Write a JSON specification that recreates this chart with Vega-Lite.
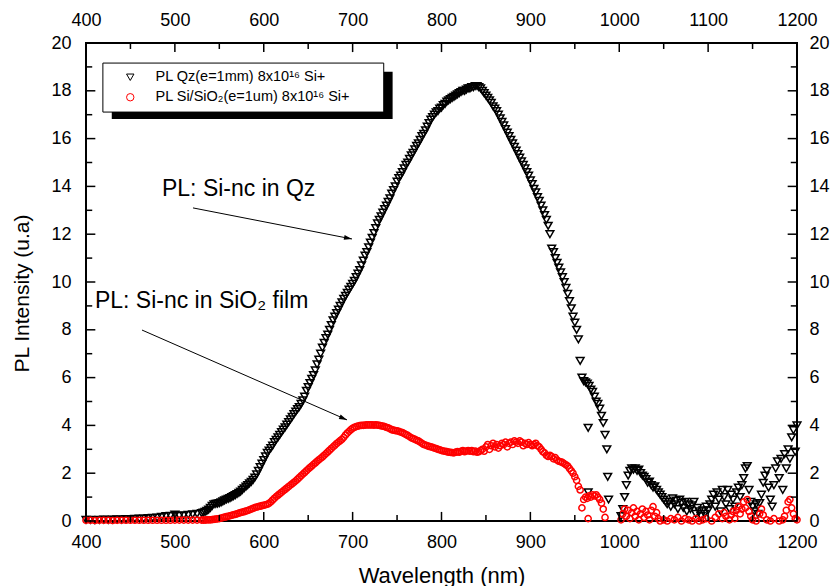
{
"$schema":"https://vega.github.io/schema/vega-lite/v6.json",
"width":711,"height":478,
"autosize":{"type":"none"},
"padding":{"left":86,"top":43,"right":38,"bottom":65},
"background":"white",
"config":{
 "font":"Liberation Sans",
 "view":{"stroke":"black","strokeWidth":2},
 "axis":{"domain":false,"ticks":false,"grid":false,"labelFont":"Liberation Sans","labelFontSize":18,"labelColor":"black","labelFlush":false,"labelOverlap":false,"labelBound":false,"titleFont":"Liberation Sans","titleFontWeight":"normal","titleColor":"black","titleFontSize":21}
},
"datasets":{
 "xmaj":[{"t":400},{"t":500},{"t":600},{"t":700},{"t":800},{"t":900},{"t":1000},{"t":1100},{"t":1200}],
 "xmin":[{"t":450},{"t":550},{"t":650},{"t":750},{"t":850},{"t":950},{"t":1050},{"t":1150}],
 "ymaj":[{"t":0},{"t":2},{"t":4},{"t":6},{"t":8},{"t":10},{"t":12},{"t":14},{"t":16},{"t":18},{"t":20}],
 "ymin":[{"t":1},{"t":3},{"t":5},{"t":7},{"t":9},{"t":11},{"t":13},{"t":15},{"t":17},{"t":19}]
},
"data":{"values":[
{"w":400,"q":0.05,"s":0.03},{"w":405,"q":0.05,"s":0.03},{"w":410,"q":0.04,"s":0.02},{"w":415,"q":0.05,"s":0.03},{"w":420,"q":0.06,"s":0.03},{"w":425,"q":0.05,"s":0.03},{"w":430,"q":0.06,"s":0.02},{"w":435,"q":0.07,"s":0.03},{"w":440,"q":0.06,"s":0.03},{"w":445,"q":0.08,"s":0.03},{"w":450,"q":0.08,"s":0.03},{"w":455,"q":0.09,"s":0.03},{"w":460,"q":0.1,"s":0.03},{"w":465,"q":0.1,"s":0.03},{"w":470,"q":0.12,"s":0.03},{"w":475,"q":0.13,"s":0.03},{"w":480,"q":0.14,"s":0.03},{"w":485,"q":0.17,"s":0.03},{"w":490,"q":0.2,"s":0.03},{"w":495,"q":0.22,"s":0.03},{"w":500,"q":0.27,"s":0.04},{"w":505,"q":0.22,"s":0.04},{"w":510,"q":0.24,"s":0.04},{"w":515,"q":0.26,"s":0.04},{"w":520,"q":0.28,"s":0.04},{"w":525,"q":0.3,"s":0.04},{"w":530,"q":0.33,"s":0.04},
{"w":532,"q":0.35,"s":0.04},{"w":534,"q":0.38,"s":0.04},{"w":536,"q":0.42,"s":0.05},{"w":538,"q":0.48,"s":0.05},{"w":540,"q":0.55,"s":0.05},{"w":542,"q":0.63,"s":0.06},{"w":544,"q":0.7,"s":0.07},{"w":546,"q":0.72,"s":0.08},{"w":548,"q":0.73,"s":0.09},{"w":550,"q":0.75,"s":0.1},
{"w":552,"q":0.78,"s":0.12},{"w":554,"q":0.82,"s":0.14},{"w":556,"q":0.86,"s":0.16},{"w":558,"q":0.9,"s":0.18},{"w":560,"q":0.93,"s":0.2},{"w":562,"q":0.96,"s":0.22},{"w":564,"q":1.0,"s":0.24},{"w":566,"q":1.04,"s":0.26},{"w":568,"q":1.08,"s":0.28},{"w":570,"q":1.13,"s":0.3},
{"w":572,"q":1.18,"s":0.33},{"w":574,"q":1.23,"s":0.35},{"w":576,"q":1.3,"s":0.37},{"w":578,"q":1.37,"s":0.39},{"w":580,"q":1.44,"s":0.42},{"w":582,"q":1.5,"s":0.44},{"w":584,"q":1.57,"s":0.47},{"w":586,"q":1.64,"s":0.5},{"w":588,"q":1.72,"s":0.53},{"w":590,"q":1.82,"s":0.56},
{"w":592,"q":1.95,"s":0.58},{"w":594,"q":2.1,"s":0.6},{"w":596,"q":2.25,"s":0.62},{"w":598,"q":2.4,"s":0.64},{"w":600,"q":2.55,"s":0.66},{"w":602,"q":2.7,"s":0.68},{"w":604,"q":2.85,"s":0.7},{"w":606,"q":2.95,"s":0.74},{"w":608,"q":3.05,"s":0.8},{"w":610,"q":3.15,"s":0.88},
{"w":612,"q":3.3,"s":0.95},{"w":614,"q":3.4,"s":1.02},{"w":616,"q":3.5,"s":1.08},{"w":618,"q":3.6,"s":1.14},{"w":620,"q":3.72,"s":1.2},{"w":622,"q":3.82,"s":1.26},{"w":624,"q":3.92,"s":1.32},{"w":626,"q":4.03,"s":1.38},{"w":628,"q":4.14,"s":1.44},{"w":630,"q":4.25,"s":1.5},
{"w":632,"q":4.36,"s":1.56},{"w":634,"q":4.47,"s":1.62},{"w":636,"q":4.58,"s":1.68},{"w":638,"q":4.68,"s":1.75},{"w":640,"q":4.77,"s":1.82},{"w":642,"q":4.9,"s":1.89},{"w":644,"q":5.05,"s":1.96},{"w":646,"q":5.2,"s":2.03},{"w":648,"q":5.45,"s":2.1},{"w":650,"q":5.6,"s":2.17},
{"w":652,"q":5.77,"s":2.24},{"w":654,"q":5.95,"s":2.3},{"w":656,"q":6.1,"s":2.37},{"w":658,"q":6.3,"s":2.43},{"w":660,"q":6.55,"s":2.5},{"w":662,"q":6.75,"s":2.56},{"w":664,"q":7.0,"s":2.62},{"w":666,"q":7.25,"s":2.68},{"w":668,"q":7.45,"s":2.75},{"w":670,"q":7.65,"s":2.82},
{"w":672,"q":7.8,"s":2.89},{"w":674,"q":8.0,"s":2.96},{"w":676,"q":8.2,"s":3.03},{"w":678,"q":8.4,"s":3.1},{"w":680,"q":8.55,"s":3.17},{"w":682,"q":8.7,"s":3.24},{"w":684,"q":8.85,"s":3.3},{"w":686,"q":9.0,"s":3.36},{"w":688,"q":9.15,"s":3.42},{"w":690,"q":9.3,"s":3.5},
{"w":692,"q":9.42,"s":3.6},{"w":694,"q":9.55,"s":3.68},{"w":696,"q":9.68,"s":3.75},{"w":698,"q":9.8,"s":3.82},{"w":700,"q":9.92,"s":3.88},{"w":702,"q":10.05,"s":3.92},{"w":704,"q":10.2,"s":3.95},{"w":706,"q":10.35,"s":3.97},{"w":708,"q":10.5,"s":3.99},{"w":710,"q":10.7,"s":4.0},
{"w":712,"q":10.9,"s":4.0},{"w":714,"q":11.1,"s":4.01},{"w":716,"q":11.25,"s":4.02},{"w":718,"q":11.45,"s":4.02},{"w":720,"q":11.65,"s":4.02},{"w":722,"q":11.85,"s":4.02},{"w":724,"q":12.05,"s":4.01},{"w":726,"q":12.25,"s":4.02},{"w":728,"q":12.45,"s":4.01},{"w":730,"q":12.6,"s":4.0},
{"w":732,"q":12.75,"s":3.98},{"w":734,"q":12.9,"s":3.97},{"w":736,"q":13.05,"s":3.95},{"w":738,"q":13.2,"s":3.92},{"w":740,"q":13.35,"s":3.9},{"w":742,"q":13.5,"s":3.86},{"w":744,"q":13.7,"s":3.82},{"w":746,"q":13.85,"s":3.8},{"w":748,"q":14.0,"s":3.78},{"w":750,"q":14.2,"s":3.77},
{"w":752,"q":14.35,"s":3.75},{"w":754,"q":14.45,"s":3.72},{"w":756,"q":14.6,"s":3.7},{"w":758,"q":14.75,"s":3.66},{"w":760,"q":14.9,"s":3.62},{"w":762,"q":15.0,"s":3.58},{"w":764,"q":15.15,"s":3.53},{"w":766,"q":15.3,"s":3.48},{"w":768,"q":15.4,"s":3.45},{"w":770,"q":15.55,"s":3.42},
{"w":772,"q":15.7,"s":3.38},{"w":774,"q":15.8,"s":3.35},{"w":776,"q":15.95,"s":3.3},{"w":778,"q":16.1,"s":3.25},{"w":780,"q":16.2,"s":3.2},{"w":782,"q":16.35,"s":3.18},{"w":784,"q":16.5,"s":3.15},{"w":786,"q":16.65,"s":3.12},{"w":788,"q":16.8,"s":3.1},{"w":790,"q":16.9,"s":3.08},
{"w":792,"q":17.0,"s":3.05},{"w":794,"q":17.1,"s":3.03},{"w":796,"q":17.15,"s":3.0},{"w":798,"q":17.25,"s":2.98},{"w":800,"q":17.3,"s":2.95},{"w":802,"q":17.4,"s":2.93},{"w":804,"q":17.45,"s":2.92},{"w":806,"q":17.55,"s":2.9},{"w":808,"q":17.6,"s":2.88},{"w":810,"q":17.65,"s":2.87},
{"w":812,"q":17.7,"s":2.86},{"w":814,"q":17.75,"s":2.85},{"w":816,"q":17.8,"s":2.88},{"w":818,"q":17.85,"s":2.9},{"w":820,"q":17.9,"s":2.88},{"w":822,"q":17.95,"s":2.92},{"w":824,"q":18.0,"s":2.95},{"w":826,"q":18.0,"s":2.9},{"w":828,"q":18.05,"s":2.93},{"w":830,"q":18.1,"s":2.95},
{"w":832,"q":18.1,"s":2.92},{"w":834,"q":18.15,"s":2.95},{"w":836,"q":18.15,"s":2.9},{"w":838,"q":18.2,"s":2.93},{"w":840,"q":18.2,"s":2.88},{"w":842,"q":18.15,"s":2.9},{"w":844,"q":18.1,"s":2.95},{"w":846,"q":18.0,"s":3.0},{"w":848,"q":17.9,"s":2.92},{"w":850,"q":17.8,"s":3.1},
{"w":852,"q":17.7,"s":3.2},{"w":854,"q":17.6,"s":3.0},{"w":856,"q":17.5,"s":3.15},{"w":858,"q":17.35,"s":3.25},{"w":860,"q":17.25,"s":3.1},{"w":862,"q":17.15,"s":3.2},{"w":864,"q":17.0,"s":3.05},{"w":866,"q":16.85,"s":3.15},{"w":868,"q":16.7,"s":3.25},{"w":870,"q":16.55,"s":3.2},
{"w":872,"q":16.4,"s":3.3},{"w":874,"q":16.25,"s":3.1},{"w":876,"q":16.1,"s":3.25},{"w":878,"q":15.95,"s":3.3},{"w":880,"q":15.8,"s":3.2},{"w":882,"q":15.65,"s":3.35},{"w":884,"q":15.5,"s":3.3},{"w":886,"q":15.35,"s":3.25},{"w":888,"q":15.2,"s":3.35},{"w":890,"q":15.05,"s":3.3},
{"w":892,"q":14.9,"s":3.15},{"w":894,"q":14.75,"s":3.25},{"w":896,"q":14.6,"s":3.2},{"w":898,"q":14.45,"s":3.28},{"w":900,"q":14.25,"s":3.2},{"w":902,"q":14.1,"s":3.15},{"w":904,"q":13.9,"s":3.2},{"w":906,"q":13.75,"s":3.25},{"w":908,"q":13.55,"s":3.15},{"w":910,"q":13.4,"s":3.1},
{"w":912,"q":13.2,"s":3.0},{"w":914,"q":13.0,"s":2.9},{"w":916,"q":12.8,"s":2.85},{"w":918,"q":12.6,"s":2.75},{"w":920,"q":12.35,"s":2.7},{"w":922,"q":12.0,"s":2.75},{"w":924,"q":11.4,"s":2.7},{"w":926,"q":11.25,"s":2.6},{"w":928,"q":11.0,"s":2.65},{"w":930,"q":10.8,"s":2.55},
{"w":932,"q":10.6,"s":2.5},{"w":934,"q":10.4,"s":2.48},{"w":936,"q":10.2,"s":2.45},{"w":938,"q":10.0,"s":2.4},{"w":940,"q":9.75,"s":2.35},{"w":942,"q":9.5,"s":2.3},{"w":944,"q":9.2,"s":2.2},{"w":946,"q":8.9,"s":2.1},{"w":948,"q":8.55,"s":2.0},{"w":950,"q":8.3,"s":1.85},
{"w":952,"q":8.0,"s":1.7},{"w":954,"q":7.6,"s":1.45},{"w":956,"q":6.7,"s":1.3},{"w":958,"q":6.0,"s":0.55},{"w":960,"q":5.85,"s":0.9},{"w":962,"q":5.8,"s":1.0},{"w":964,"q":5.75,"s":0.95},{"w":966,"q":5.65,"s":1.05},{"w":968,"q":5.5,"s":1.0},{"w":970,"q":5.4,"s":1.1},
{"w":972,"q":5.2,"s":1.05},{"w":974,"q":5.0,"s":1.1},{"w":976,"q":4.9,"s":1.0},{"w":978,"q":4.7,"s":0.9},{"w":980,"q":4.4,"s":0.75},{"w":982,"q":4.1,"s":0.5},{"w":984,"q":3.6,"s":0.15},{"w":986,"q":3.0},{"w":987,"q":1.85},{"w":988,"q":0.9},
{"w":965,"q":3.9},{"w":965,"q":1.2},{"w":965,"s":0.1},
{"w":1002,"q":0.2,"s":0.05},{"w":1004,"q":0.5,"s":0.3},{"w":1006,"q":1.0,"s":0.5},{"w":1008,"q":1.5,"s":0.2},{"w":1010,"q":1.9,"s":0.45},{"w":1012,"q":2.1,"s":0.1},{"w":1014,"q":2.2,"s":0.35},{"w":1016,"q":2.15,"s":0.55},{"w":1018,"q":2.2,"s":0.2},{"w":1020,"q":2.1,"s":0.4},
{"w":1022,"q":2.15,"s":0.05},{"w":1024,"q":2.0,"s":0.3},{"w":1026,"q":1.9,"s":0.5},{"w":1028,"q":1.85,"s":0.15},{"w":1030,"q":1.75,"s":0.4},{"w":1032,"q":1.6,"s":0.25},{"w":1034,"q":1.65,"s":0.05},{"w":1036,"q":1.5,"s":0.45},{"w":1038,"q":1.4,"s":0.6},{"w":1040,"q":1.45,"s":0.2},
{"w":1042,"q":1.3,"s":0.35},{"w":1044,"q":1.2,"s":0.1},{"w":1046,"q":1.1,"s":0.0},{"w":1048,"q":1.0},{"w":1050,"q":0.9,"s":0.05},{"w":1052,"q":0.8},{"w":1054,"q":0.7,"s":0.0},{"w":1056,"q":0.8},{"w":1058,"q":0.6,"s":0.1},{"w":1060,"q":0.95},
{"w":1062,"q":0.7,"s":0.05},{"w":1064,"q":0.85},{"w":1066,"q":0.5,"s":0.15},{"w":1068,"q":0.9},{"w":1070,"q":0.75,"s":0.0},{"w":1072,"q":0.55},{"w":1074,"q":0.8,"s":0.1},{"w":1076,"q":0.4},{"w":1078,"q":0.7,"s":0.05},{"w":1080,"q":0.5},
{"w":1082,"q":0.65,"s":0.0},{"w":1084,"q":0.8},{"w":1086,"q":0.3,"s":0.1},{"w":1088,"q":0.55},{"w":1090,"q":0.4,"s":0.0},{"w":1092,"q":0.2},{"w":1094,"q":0.45,"s":0.05},{"w":1096,"q":0.3},{"w":1098,"q":0.6,"s":0.1},{"w":1100,"q":0.45},
{"w":1102,"q":0.7},{"w":1104,"q":0.9,"s":0.0},{"w":1106,"q":1.1},{"w":1108,"q":0.6,"s":0.15},{"w":1110,"q":1.2},{"w":1112,"q":0.9,"s":0.3},{"w":1114,"q":0.4},{"w":1116,"q":1.3,"s":0.1},{"w":1118,"q":1.0,"s":0.35},{"w":1120,"q":0.7,"s":0.2},
{"w":1122,"q":1.3},{"w":1124,"q":0.5,"s":0.05},{"w":1126,"q":1.1,"s":0.25},{"w":1128,"q":0.9,"s":0.4},{"w":1130,"q":0.6,"s":0.1},{"w":1132,"q":1.2,"s":0.45},{"w":1134,"q":1.4,"s":0.6},{"w":1136,"q":1.0,"s":0.3},{"w":1138,"q":1.5,"s":0.5},{"w":1140,"q":1.8,"s":0.8},
{"w":1142,"q":2.2,"s":0.55},{"w":1144,"q":2.3,"s":0.9},{"w":1146,"q":1.3,"s":0.4},{"w":1148,"q":0.8,"s":0.2},{"w":1150,"q":0.6,"s":0.05},{"w":1152,"q":0.4},{"w":1154,"q":0.7,"s":0.0},{"w":1156,"q":0.3},{"w":1158,"q":0.75,"s":0.3},{"w":1160,"q":1.1,"s":0.5},
{"w":1162,"q":1.6,"s":0.25},{"w":1164,"q":1.9},{"w":1166,"q":2.1,"s":0.05},{"w":1168,"q":1.4},{"w":1170,"q":0.9,"s":0.0},{"w":1172,"q":0.6},{"w":1174,"q":1.5,"s":0.1},{"w":1176,"q":2.2},{"w":1178,"q":2.5},{"w":1180,"q":1.8,"s":0.0},
{"w":1182,"q":2.6},{"w":1184,"q":1.3,"s":0.05},{"w":1186,"q":2.8,"s":0.2},{"w":1188,"q":2.2,"s":0.45},{"w":1190,"q":3.0,"s":0.8},{"w":1192,"q":2.6,"s":0.9},{"w":1194,"q":3.5,"s":0.55},{"w":1196,"q":3.8,"s":0.3},{"w":1198,"q":2.9,"s":0.1},{"w":1200,"q":4.0,"s":0.05}
]},
"resolve":{"axis":{"x":"independent","y":"independent"}},
"layer":[
{"mark":{"type":"point","filled":false,"strokeWidth":1.5,"size":60,"opacity":1},
 "encoding":{
  "x":{"field":"w","type":"quantitative","scale":{"domain":[400,1200],"nice":false,"zero":false},
   "axis":{"orient":"bottom","values":[400,500,600,700,800,900,1000,1100,1200],"format":"d","labelPadding":12,"title":"Wavelength (nm)","titleFontSize":22,"titleY":61,"titleBaseline":"alphabetic"}},
  "y":{"field":"q","type":"quantitative","scale":{"domain":[0,20],"nice":false},
   "axis":{"orient":"left","values":[0,2,4,6,8,10,12,14,16,18,20],"format":"d","labelPadding":15,"title":"PL Intensity (u.a)","titleX":-54,"titleY":250,"titleAngle":270,"titleBaseline":"bottom"}},
  "shape":{"datum":"PL Qz(e=1mm) 8x10¹⁶ Si+","type":"nominal","scale":{"domain":["PL Qz(e=1mm) 8x10¹⁶ Si+","PL Si/SiO₂(e=1um) 8x10¹⁶ Si+"],"range":["triangle-down","circle"]},
   "legend":{"orient":"none","legendX":37,"legendY":27,"title":null,"labelFont":"Liberation Sans","labelFontSize":14.5,"labelColor":"black","labelLimit":400,"symbolSize":55,"symbolStrokeWidth":1,"rowPadding":5,"labelOffset":18,"padding":0}},
  "color":{"datum":"PL Qz(e=1mm) 8x10¹⁶ Si+","type":"nominal","scale":{"domain":["PL Qz(e=1mm) 8x10¹⁶ Si+","PL Si/SiO₂(e=1um) 8x10¹⁶ Si+"],"range":["black","red"]},
   "legend":{"orient":"none","legendX":37,"legendY":27,"title":null,"labelFont":"Liberation Sans","labelFontSize":14.5,"labelColor":"black","labelLimit":400,"symbolSize":55,"symbolStrokeWidth":1,"rowPadding":5,"labelOffset":18,"padding":0}}
 }},
{"mark":{"type":"point","filled":false,"strokeWidth":1.5,"size":38,"opacity":1},
 "encoding":{
  "x":{"field":"w","type":"quantitative",
   "axis":{"orient":"top","values":[400,500,600,700,800,900,1000,1100,1200],"format":"d","labelPadding":14,"title":null}},
  "y":{"field":"s","type":"quantitative",
   "axis":{"orient":"right","values":[0,2,4,6,8,10,12,14,16,18,20],"format":"d","labelPadding":12,"title":null}},
  "shape":{"datum":"PL Si/SiO₂(e=1um) 8x10¹⁶ Si+","type":"nominal"},
  "color":{"datum":"PL Si/SiO₂(e=1um) 8x10¹⁶ Si+","type":"nominal"}
 }},
{"data":{"name":"xmaj"},"mark":{"type":"rule","color":"black","strokeWidth":1.5},
 "encoding":{"x":{"field":"t","type":"quantitative","axis":null},"y":{"datum":0,"type":"quantitative","axis":null},"y2":{"datum":0.38}}},
{"data":{"name":"xmaj"},"mark":{"type":"rule","color":"black","strokeWidth":1.5},
 "encoding":{"x":{"field":"t","type":"quantitative","axis":null},"y":{"datum":20,"type":"quantitative","axis":null},"y2":{"datum":19.62}}},
{"data":{"name":"xmin"},"mark":{"type":"rule","color":"black","strokeWidth":1.5},
 "encoding":{"x":{"field":"t","type":"quantitative","axis":null},"y":{"datum":0,"type":"quantitative","axis":null},"y2":{"datum":0.25}}},
{"data":{"name":"xmin"},"mark":{"type":"rule","color":"black","strokeWidth":1.5},
 "encoding":{"x":{"field":"t","type":"quantitative","axis":null},"y":{"datum":20,"type":"quantitative","axis":null},"y2":{"datum":19.75}}},
{"data":{"name":"ymaj"},"mark":{"type":"rule","color":"black","strokeWidth":1.5},
 "encoding":{"y":{"field":"t","type":"quantitative","axis":null},"x":{"datum":400,"type":"quantitative","axis":null},"x2":{"datum":410.5}}},
{"data":{"name":"ymaj"},"mark":{"type":"rule","color":"black","strokeWidth":1.5},
 "encoding":{"y":{"field":"t","type":"quantitative","axis":null},"x":{"datum":1200,"type":"quantitative","axis":null},"x2":{"datum":1189.5}}},
{"data":{"name":"ymin"},"mark":{"type":"rule","color":"black","strokeWidth":1.5},
 "encoding":{"y":{"field":"t","type":"quantitative","axis":null},"x":{"datum":400,"type":"quantitative","axis":null},"x2":{"datum":407}}},
{"data":{"name":"ymin"},"mark":{"type":"rule","color":"black","strokeWidth":1.5},
 "encoding":{"y":{"field":"t","type":"quantitative","axis":null},"x":{"datum":1200,"type":"quantitative","axis":null},"x2":{"datum":1193}}},
{"data":{"values":[{}]},"mark":{"type":"rect","color":"black"},
 "encoding":{"x":{"datum":429,"type":"quantitative","axis":null},"x2":{"datum":745},"y":{"datum":16.82,"type":"quantitative","axis":null},"y2":{"datum":18.8}}},
{"data":{"values":[{}]},"mark":{"type":"rect","fill":"white","stroke":"black","strokeWidth":1},
 "encoding":{"x":{"datum":419,"type":"quantitative","axis":null},"x2":{"datum":735},"y":{"datum":17.11,"type":"quantitative","axis":null},"y2":{"datum":19.16}}},
{"data":{"values":[{}]},"mark":{"type":"rule","color":"black","strokeWidth":1},
 "encoding":{"x":{"datum":520.4,"type":"quantitative","axis":null},"y":{"datum":13.1,"type":"quantitative","axis":null},"x2":{"datum":699.3},"y2":{"datum":11.8}}},
{"data":{"values":[{}]},"mark":{"type":"rule","color":"black","strokeWidth":1},
 "encoding":{"x":{"datum":463,"type":"quantitative","axis":null},"y":{"datum":7.99,"type":"quantitative","axis":null},"x2":{"datum":693.7},"y2":{"datum":4.23}}},
{"data":{"values":[{}]},"mark":{"type":"point","shape":"M0,0L-2,-0.6L-2,0.6Z","filled":true,"color":"black","size":64,"angle":11,"opacity":1},
 "encoding":{"x":{"datum":699.3,"type":"quantitative","axis":null},"y":{"datum":11.8,"type":"quantitative","axis":null}}},
{"data":{"values":[{}]},"mark":{"type":"point","shape":"M0,0L-2,-0.6L-2,0.6Z","filled":true,"color":"black","size":64,"angle":23.7,"opacity":1},
 "encoding":{"x":{"datum":693.7,"type":"quantitative","axis":null},"y":{"datum":4.23,"type":"quantitative","axis":null}}},
{"data":{"values":[{}]},"mark":{"type":"text","text":"PL: Si-nc in Qz","align":"left","baseline":"alphabetic","fontSize":23,"font":"Liberation Sans","color":"black"},
 "encoding":{"x":{"datum":485.5,"type":"quantitative","axis":null},"y":{"datum":13.6,"type":"quantitative","axis":null}}},
{"data":{"values":[{}]},"mark":{"type":"text","text":"PL: Si-nc in SiO₂ film","align":"left","baseline":"alphabetic","fontSize":23,"font":"Liberation Sans","color":"black"},
 "encoding":{"x":{"datum":410,"type":"quantitative","axis":null},"y":{"datum":8.91,"type":"quantitative","axis":null}}}
]
}
